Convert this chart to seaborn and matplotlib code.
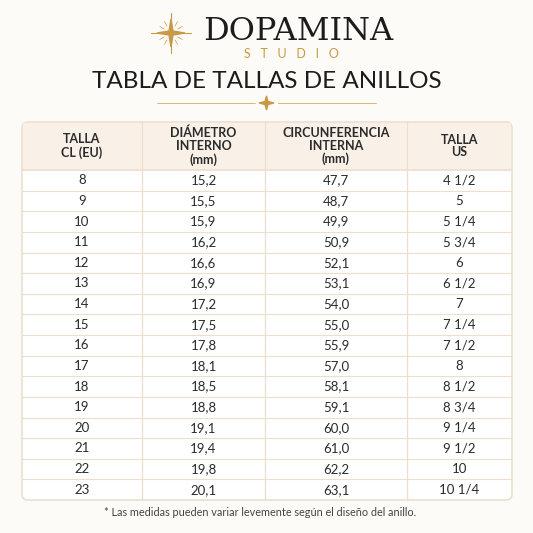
import matplotlib
matplotlib.use("Agg")
import matplotlib.pyplot as plt
import seaborn as sns
from matplotlib.patches import FancyBboxPatch, Rectangle
import numpy as np

talla_cl = ["8","9","10","11","12","13","14","15","16","17","18","19","20","21","22","23"]
diametro = ["15,2","15,5","15,9","16,2","16,6","16,9","17,2","17,5","17,8","18,1","18,5","18,8","19,1","19,4","19,8","20,1"]
circunf = ["47,7","48,7","49,9","50,9","52,1","53,1","54,0","55,0","55,9","57,0","58,1","59,1","60,0","61,0","62,2","63,1"]
talla_us = ["4 1/2","5","5 1/4","5 3/4","6","6 1/2","7","7 1/4","7 1/2","8","8 1/2","8 3/4","9 1/4","9 1/2","10","10 1/4"]
headers = ["TALLA\nCL (EU)", "DIÁMETRO\nINTERNO\n(mm)", "CIRCUNFERENCIA\nINTERNA\n(mm)", "TALLA\nUS"]

sns.set_theme(style="white")
plt.rcParams['font.family'] = ['Lato', 'DejaVu Sans']

BG = "#fdfbf8"; HEAD = "#f9f1e8"; LINE = "#eddfce"; GOLD = "#c99a45"; TXT = "#2b2b2b"
fig = plt.figure(figsize=(5.33, 5.33), dpi=100, facecolor=BG)
ax = fig.add_axes([0, 0, 1, 1])
ax.set_xlim(0, 533); ax.set_ylim(533, 0); ax.axis("off")

# logo
ax.text(203, 32, "DOPAMINA", fontsize=23, family="DejaVu Serif", color="#1c1c1c", va="center", ha="left")
ax.text(291, 54, "S   T   U   D   I   O", fontsize=9, color=GOLD, va="center", ha="center")
sx, sy = 171, 33
ax.plot([sx-20, sx+20], [sy, sy], color=GOLD, lw=0.8)
ax.plot([sx, sx], [sy-20, sy+20], color=GOLD, lw=0.8)
ax.fill([sx-14, sx-2, sx, sx+2, sx+14, sx+2, sx, sx-2], [sy, sy-2, sy-14, sy-2, sy, sy+2, sy+14, sy+2], color=GOLD)
for a in np.linspace(0, 2*np.pi, 12, endpoint=False):
    ax.plot([sx+8*np.cos(a), sx+13*np.cos(a)], [sy+8*np.sin(a), sy+13*np.sin(a)], color=GOLD, lw=0.5)

ax.text(266.5, 81, "TABLA DE TALLAS DE ANILLOS", fontsize=17.5, color="#1c1c1c", ha="center", va="center")
ax.plot([157, 255], [103, 103], color=GOLD, lw=0.7, alpha=0.7)
ax.plot([278, 376], [103, 103], color=GOLD, lw=0.7, alpha=0.7)
ax.fill([259, 265, 266.5, 268, 274, 268, 266.5, 265], [103, 101.5, 96, 101.5, 103, 104.5, 110, 104.5], color=GOLD)

# table
cols = [22, 142, 265, 407, 512]
top, htop, bottom = 122, 170, 500
n = len(talla_cl)
rh = (bottom - htop) / n
ax.add_patch(FancyBboxPatch((cols[0], top), cols[-1]-cols[0], bottom-top,
             boxstyle="round,pad=0,rounding_size=6", fc="white", ec=LINE, lw=1.2, zorder=1))
ax.add_patch(Rectangle((cols[0]+0.6, top+0.6), cols[-1]-cols[0]-1.2, htop-top, fc=HEAD, ec="none", zorder=1.5))
for c in cols[1:-1]:
    ax.plot([c, c], [top, bottom], color=LINE, lw=0.9, zorder=2)
ax.plot([cols[0], cols[-1]], [htop, htop], color=LINE, lw=1.2, zorder=2)
for i in range(1, n):
    y = htop + i*rh
    ax.plot([cols[0], cols[-1]], [y, y], color=LINE, lw=0.8, zorder=2)
centers = [(cols[j]+cols[j+1])/2 for j in range(4)]
for j, h in enumerate(headers):
    ax.text(centers[j], (top+htop)/2, h, fontsize=9, fontweight="bold", color=TXT,
            ha="center", va="center", linespacing=1.1, zorder=3)
for i in range(n):
    y = htop + (i+0.5)*rh
    for j, col in enumerate([talla_cl, diametro, circunf, talla_us]):
        ax.text(centers[j], y, col[i], fontsize=9.5, color=TXT, ha="center", va="center", zorder=3)

ax.text(260, 512, "* Las medidas pueden variar levemente según el diseño del anillo.",
        fontsize=7.8, color="#444444", ha="center", va="center")
fig.savefig("out.png", dpi=100, facecolor=BG)
